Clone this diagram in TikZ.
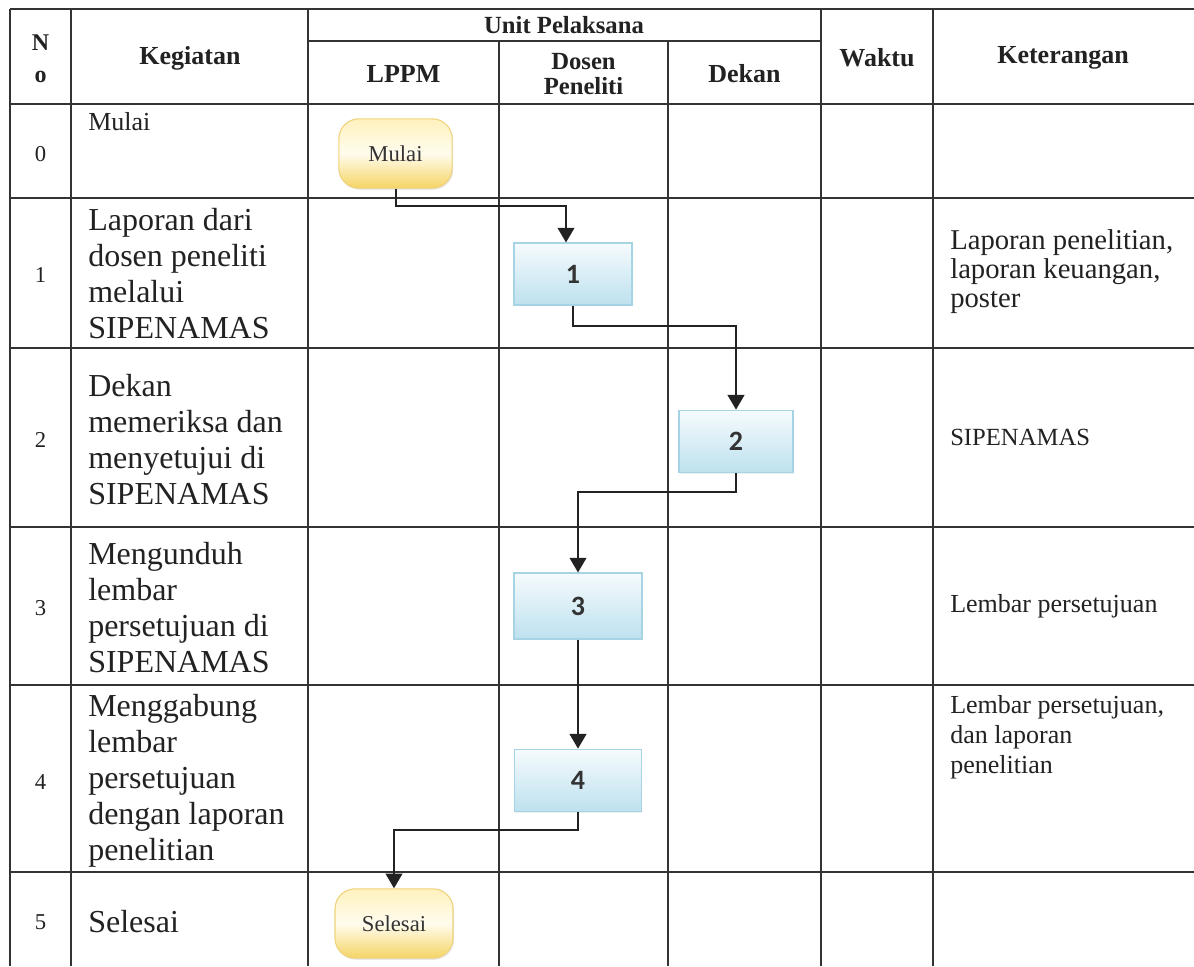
\documentclass[tikz,border=0pt]{standalone}
\usepackage{fontspec}
\setmainfont{Liberation Serif}
\newfontfamily\boxfont{Carlito}
\usetikzlibrary{arrows.meta,calc,shadows}
\definecolor{ink}{HTML}{222222}
\definecolor{gridc}{HTML}{333333}
\definecolor{termtop}{HTML}{FFF2BE}
\definecolor{termmid}{HTML}{FFFCEE}
\definecolor{termbot}{HTML}{F5D464}
\definecolor{termdraw}{HTML}{EFD27A}
\definecolor{proctop}{HTML}{F6FBFD}
\definecolor{procbot}{HTML}{BDE1EE}
\definecolor{procdraw}{HTML}{A6D4E4}
\definecolor{boxtext}{HTML}{333333}
\begin{document}
\begin{tikzpicture}[x=0.75pt,y=-0.75pt,
  gridline/.style={draw=gridc, line width=1.1pt},
  hd/.style={inner sep=0pt, text=ink, font=\bfseries\fontsize{19.5}{22}\selectfont},
  num/.style={inner sep=0pt, text=ink, font=\fontsize{17}{18}\selectfont},
  keg/.style={inner sep=0pt, anchor=west, align=left, text=ink, font=\fontsize{24}{27}\selectfont},
  ket/.style={inner sep=0pt, anchor=west, align=left, text=ink, font=\fontsize{19.5}{22.5}\selectfont},
  term/.style={draw=termdraw, line width=0.8pt, rounded corners=15pt,
    top color=termtop, bottom color=termbot, middle color=termmid,
    minimum height=52pt, inner sep=0pt, text=boxtext,
    font=\fontsize{17}{18}\selectfont,
    drop shadow={opacity=0.18, shadow xshift=0.8pt, shadow yshift=-1.2pt}},
  proc/.style={draw=procdraw, line width=0.8pt,
    top color=proctop, bottom color=procbot,
    inner sep=0pt, text=boxtext, font=\boxfont\bfseries\fontsize{21}{22}\selectfont,
    drop shadow={opacity=0.12, shadow xshift=0.6pt, shadow yshift=-0.8pt}},
  flow/.style={draw=ink, line width=1.5pt, -{Triangle[width=12.5pt,length=11pt]}}
]
\useasboundingbox (0,0) rectangle (1194,966);
\fill[white] (0,0) rectangle (1194,966);

% grid
\draw[gridline] (10,9) -- (1194,9);
\draw[gridline] (308,41) -- (821,41);
\foreach \yy in {104,198,348,527,685,872} \draw[gridline] (10,\yy) -- (1194,\yy);
\foreach \xx in {10,71,308,821,933} \draw[gridline] (\xx,9) -- (\xx,966);
\foreach \xx in {499,668} \draw[gridline] (\xx,41) -- (\xx,966);

% header
\node[hd, align=center, font=\bfseries\fontsize{18}{24}\selectfont] (hno) at (40.5,59) {N\\o};
\node[hd] (hkeg) at (190,58) {Kegiatan};
\node[hd, font=\bfseries\fontsize{18.5}{20}\selectfont] (hunit) at (564,25) {Unit Pelaksana};
\node[hd] (hlppm) at (403.5,74) {LPPM};
\node[hd, align=center, font=\bfseries\fontsize{18.5}{19}\selectfont] (hdosen) at (583.5,74) {Dosen\\Peneliti};
\node[hd] (hdekan) at (744.5,74) {Dekan};
\node[hd] (hwaktu) at (877,58) {Waktu};
\node[hd] (hket) at (1063,58) {Keterangan};

% numbers
\node[num] (n0) at (40.5,154) {0};
\node[num] (n1) at (40.5,275) {1};
\node[num] (n2) at (40.5,440) {2};
\node[num] (n3) at (40.5,608) {3};
\node[num] (n4) at (40.5,782) {4};
\node[num] (n5) at (40.5,922) {5};

% kegiatan
\node[keg, font=\fontsize{19.5}{22}\selectfont] (k0) at (88,122) {Mulai};
\node[keg] (k1) at (88,274) {Laporan dari\\dosen peneliti\\melalui\\SIPENAMAS};
\node[keg] (k2) at (88,440) {Dekan\\memeriksa dan\\menyetujui di\\SIPENAMAS};
\node[keg] (k3) at (88,608) {Mengunduh\\lembar\\persetujuan di\\SIPENAMAS};
\node[keg] (k4) at (88,781) {Menggabung\\lembar\\persetujuan\\dengan laporan\\penelitian};
\node[keg] (k5) at (88,922) {Selesai};

% keterangan
\node[ket, font=\fontsize{21.5}{21.8}\selectfont] (t1) at (950,272) {Laporan penelitian,\\laporan keuangan,\\poster};
\node[ket, font=\fontsize{18.5}{20}\selectfont] (t2) at (950,437) {SIPENAMAS};
\node[ket] (t3) at (950,606) {Lembar persetujuan};
\node[ket] (t4) at (950,737) {Lembar persetujuan,\\dan laporan\\penelitian};

% flow nodes
\node[term, minimum width=85pt] (mulai) at (395.5,153.5) {Mulai};
\node[proc, minimum width=88.5pt, minimum height=46.5pt] (b1) at (573,274) {1};
\node[proc, minimum width=85.5pt, minimum height=47pt] (b2) at (736,441.5) {2};
\node[proc, minimum width=96pt, minimum height=49.5pt] (b3) at (578,606) {3};
\node[proc, minimum width=95pt, minimum height=47pt] (b4) at (578,780.5) {4};
\node[term, minimum width=88.5pt] (selesai) at (394,923.5) {Selesai};

% connectors
\draw[flow] (mulai.south) -- ++(0,17) -| ($(b1.north)+(-7,0)$);
\draw[flow] (b1.south) -- ++(0,20) -| (b2.north);
\draw[flow] (b2.south) -- ++(0,19) -| (b3.north);
\draw[flow] (b3.south) -- (b4.north);
\draw[flow] (b4.south) -- ++(0,18) -| (selesai.north);
\end{tikzpicture}
\end{document}
